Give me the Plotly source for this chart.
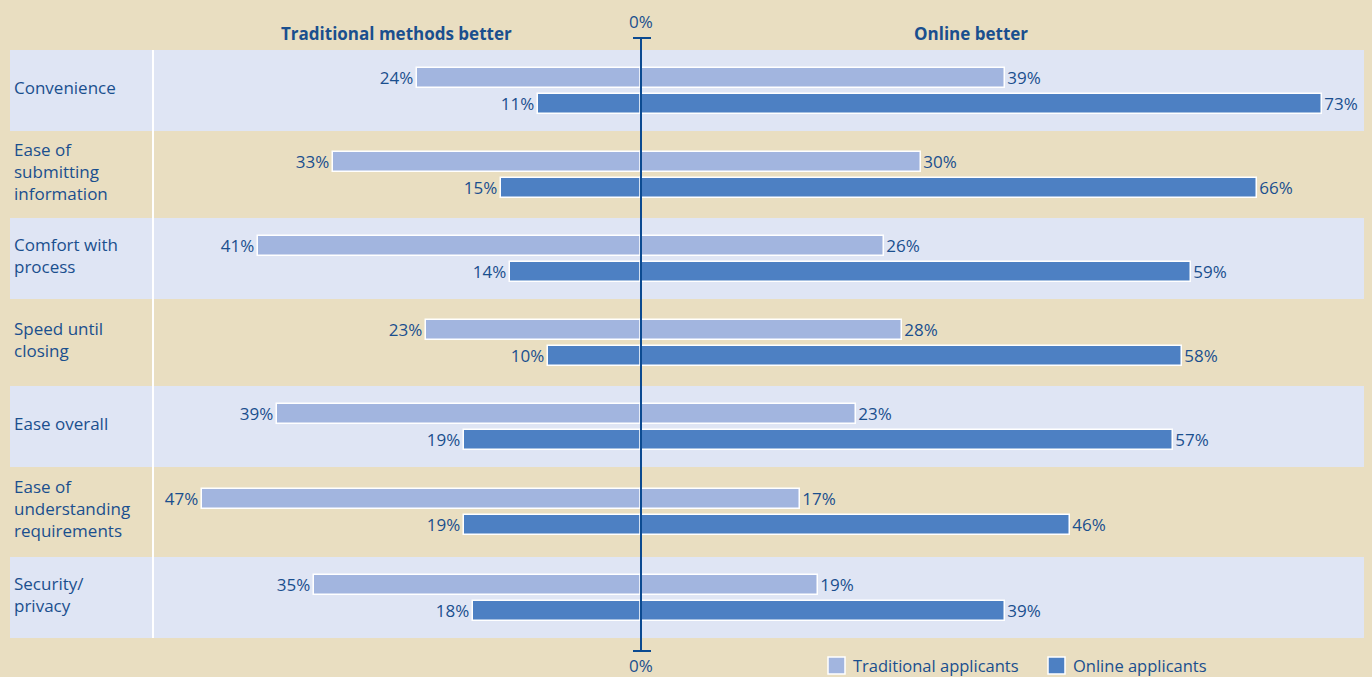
import plotly.graph_objects as go

categories = ["Convenience", "Ease of<br>submitting<br>information", "Comfort with<br>process",
              "Speed until<br>closing", "Ease overall", "Ease of<br>understanding<br>requirements",
              "Security/<br>privacy"]
trad_traditional = [24, 33, 41, 23, 39, 47, 35]   # Traditional applicants: traditional better
trad_online = [39, 30, 26, 28, 23, 17, 19]        # Traditional applicants: online better
onl_traditional = [11, 15, 14, 10, 19, 19, 18]    # Online applicants: traditional better
onl_online = [73, 66, 59, 58, 57, 46, 39]         # Online applicants: online better
series_names = ["Traditional applicants", "Online applicants"]

# layout (pixel-based coordinates; whole figure is the plot area)
W, H = 1372, 677
X0 = 641          # pixel of 0%
PPU = 9.33        # pixels per percentage point
bounds = [50, 131, 218, 299, 386, 467, 557, 638]
centers = [(bounds[i] + bounds[i + 1]) / 2 for i in range(7)]
OFF = 13
BW = 20

LIGHT = "#A2B5DF"
DARK = "#4D80C3"
BAND = "#DFE5F4"
BG = "#E9DEC1"
TXT = "#1A4F8E"
AX = "#0B4A91"
FONT = "Open Sans"
VSIZE = 17

def px(x):
    return (x - X0) / PPU

fig = go.Figure()

def add_pair(vals_left, vals_right, off, color, name):
    ys = [c + off for c in centers]
    for vals, sign in ((vals_left, -1), (vals_right, 1)):
        fig.add_trace(go.Bar(
            y=ys, x=[sign * v for v in vals], base=0, orientation="h", width=BW,
            marker=dict(color=color, line=dict(color="white", width=1.5)),
            text=[f"{v}%" for v in vals], textposition="outside", constraintext="none",
            textfont=dict(color=TXT, size=VSIZE, family=FONT), cliponaxis=False,
            name=name, showlegend=False, hoverinfo="skip"))

add_pair(trad_traditional, trad_online, -OFF, LIGHT, series_names[0])
add_pair(onl_traditional, onl_online, OFF, DARK, series_names[1])

shapes = []
for i in range(7):
    shapes.append(dict(type="rect", xref="x", yref="y", x0=px(10), x1=px(1364),
                       y0=bounds[i], y1=bounds[i + 1],
                       fillcolor=BAND if i % 2 == 0 else BG, line=dict(width=0), layer="below"))
# white divider
shapes.append(dict(type="line", xref="x", yref="y", x0=px(153), x1=px(153),
                   y0=50, y1=638, line=dict(color="white", width=2), layer="below"))
# centre axis with caps
shapes.append(dict(type="line", xref="x", yref="y", x0=0, x1=0, y0=38, y1=651,
                   line=dict(color=AX, width=2), layer="above"))
for yy in (38, 651):
    shapes.append(dict(type="line", xref="x", yref="y", x0=px(633), x1=px(651), y0=yy, y1=yy,
                       line=dict(color=AX, width=2), layer="above"))

annotations = []
for i, c in enumerate(categories):
    annotations.append(dict(xref="x", yref="y", x=px(12), y=centers[i] - 3.5,
                            text=c, showarrow=False, xanchor="left", yanchor="middle", align="left",
                            font=dict(color=TXT, size=17, family=FONT)))
annotations += [
    dict(xref="x", yref="y", x=0, y=21, text="0%", showarrow=False,
         font=dict(color=TXT, size=VSIZE, family=FONT), yanchor="middle"),
    dict(xref="x", yref="y", x=0, y=665, text="0%", showarrow=False,
         font=dict(color=TXT, size=VSIZE, family=FONT), yanchor="middle"),
    dict(xref="x", yref="y", x=px(396), y=33, text="<b>Traditional methods better</b>", showarrow=False,
         font=dict(color=TXT, size=17, family=FONT), yanchor="middle"),
    dict(xref="x", yref="y", x=px(971), y=33, text="<b>Online better</b>", showarrow=False,
         font=dict(color=TXT, size=17, family=FONT), yanchor="middle"),
]

# legend (squares + labels)
for (lx, col, name) in ((828, LIGHT, series_names[0]), (1048, DARK, series_names[1])):
    shapes.append(dict(type="rect", xref="x", yref="y", x0=px(lx), x1=px(lx + 17), y0=657, y1=674,
                       fillcolor=col, line=dict(color="white", width=1.5), layer="above"))
    annotations.append(dict(xref="x", yref="y", x=px(lx + 23), y=665.5, text=name, showarrow=False,
                            xanchor="left", yanchor="middle",
                            font=dict(color=TXT, size=16.5, family=FONT)))

fig.update_layout(
    width=W, height=H,
    margin=dict(l=0, r=0, t=0, b=0),
    paper_bgcolor=BG, plot_bgcolor=BG,
    barmode="overlay", bargap=0,
    xaxis=dict(range=[px(0), px(W)], visible=False, fixedrange=True),
    yaxis=dict(range=[H, 0], visible=False, fixedrange=True),
    shapes=shapes, annotations=annotations,
    showlegend=False,
    font=dict(family=FONT, color=TXT),
)

fig.write_html("out.html")
